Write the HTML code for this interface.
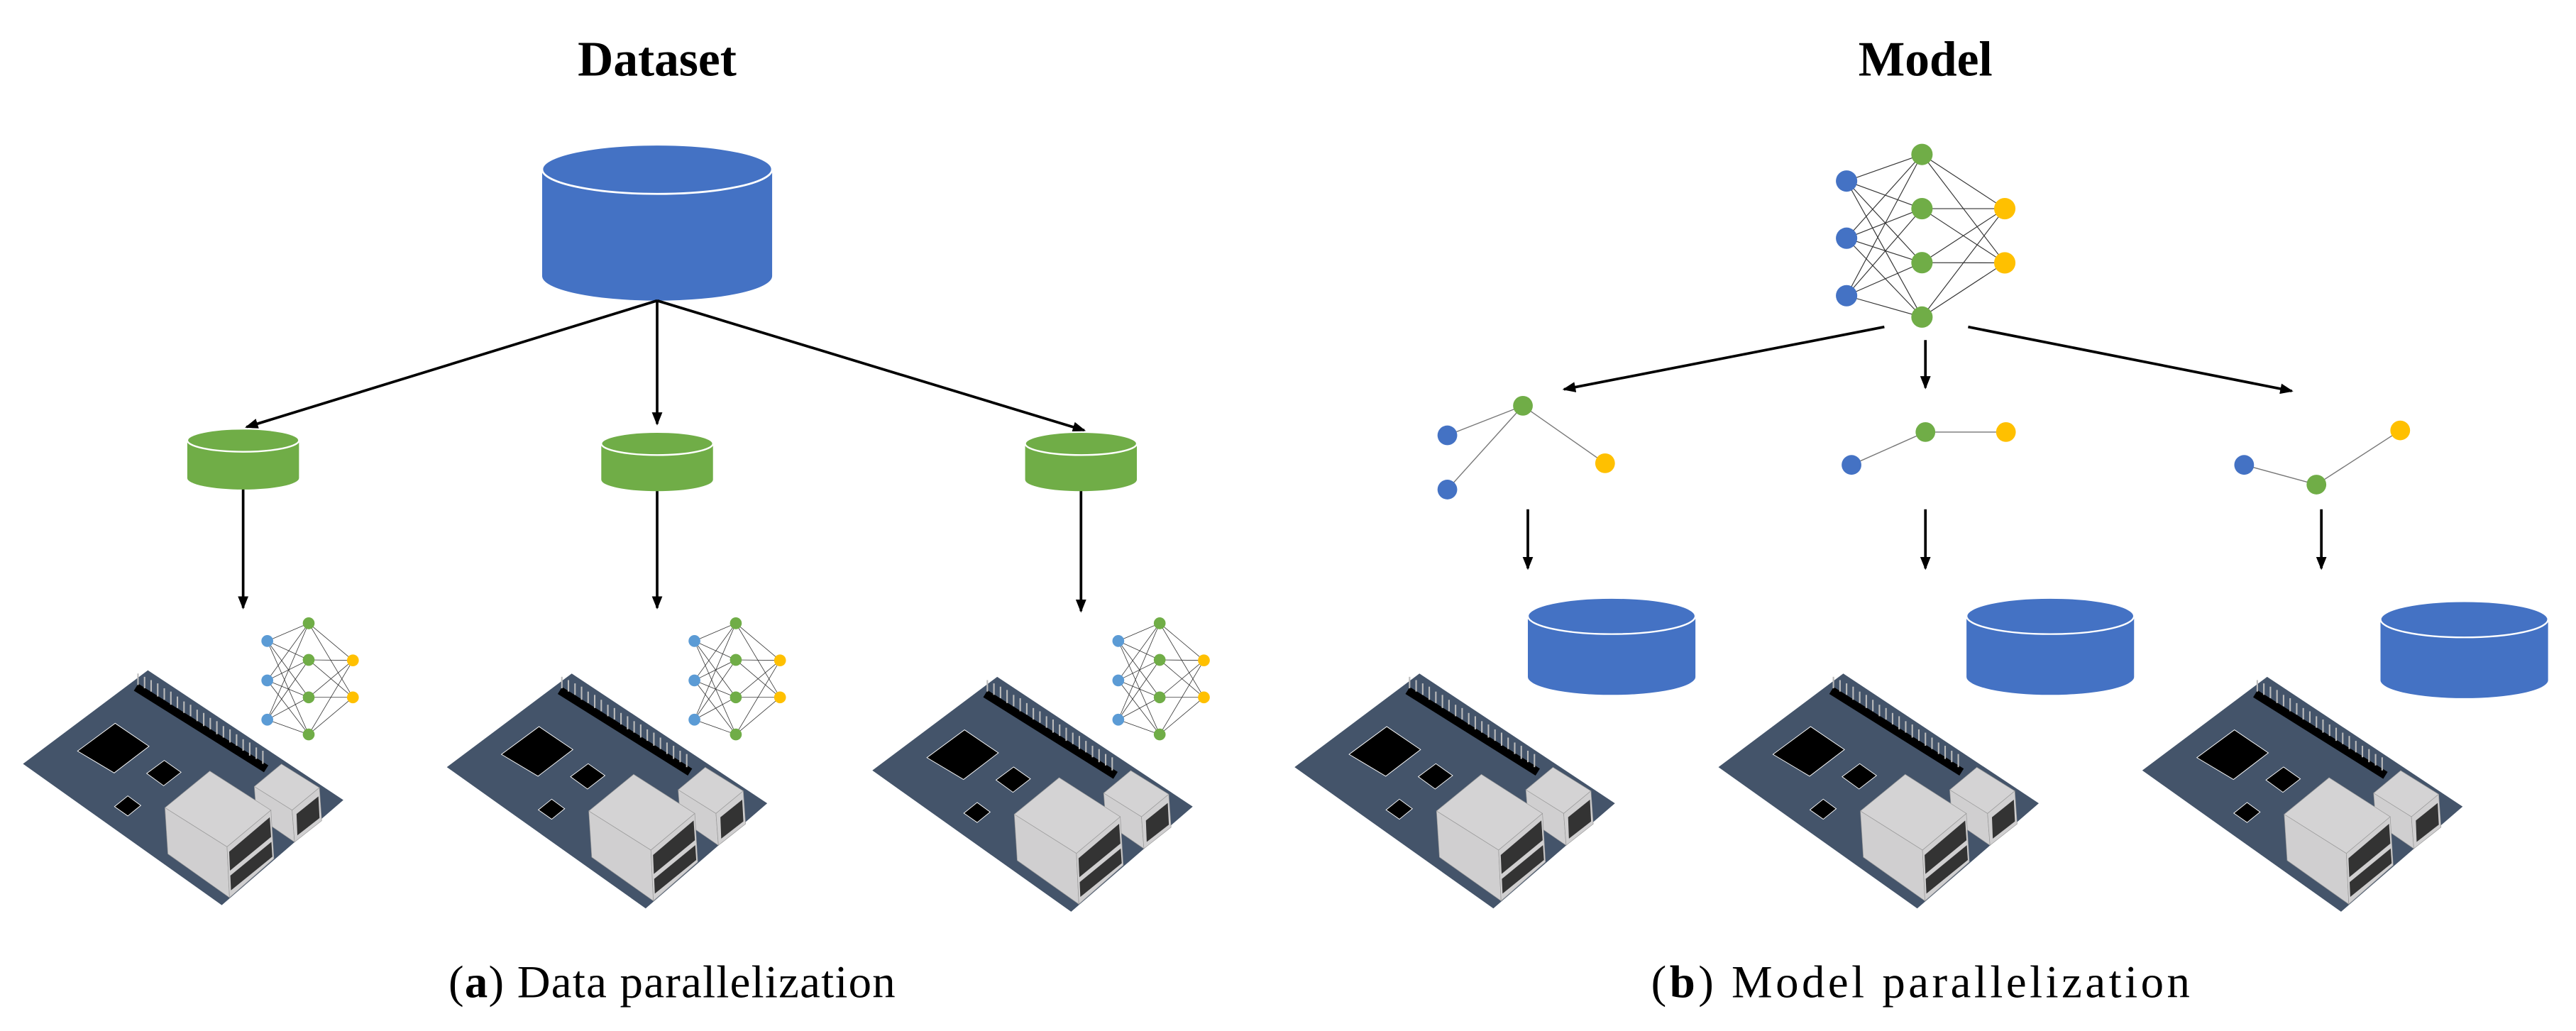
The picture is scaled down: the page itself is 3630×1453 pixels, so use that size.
<!DOCTYPE html>
<html><head><meta charset="utf-8"><style>
html,body{margin:0;padding:0;background:#fff;}
svg{display:block;}
text{font-family:"Liberation Serif",serif;}
</style></head><body>
<svg width="3630" height="1453" viewBox="0 0 1568 627.6" xmlns="http://www.w3.org/2000/svg">
<defs>
<marker id="ah" markerWidth="8" markerHeight="8" refX="7" refY="4" orient="auto" markerUnits="userSpaceOnUse">
<path d="M0,0.8 L8,4 L0,7.2 Z" fill="#000"/>
</marker>
<g id="board">
<polygon points="14,465 90,408 209,487 135,551" fill="#44546A"/>
<line x1="82.8" y1="418.3" x2="162" y2="468" stroke="#000" stroke-width="5"/>
<g stroke="#bbb" stroke-width="0.9">
<line x1="84" y1="410" x2="84" y2="417"/><line x1="88" y1="412" x2="88" y2="419"/><line x1="92" y1="414" x2="92" y2="421"/><line x1="96" y1="416" x2="96" y2="424"/><line x1="100" y1="419" x2="100" y2="426"/><line x1="104" y1="421" x2="104" y2="429"/><line x1="108" y1="424" x2="108" y2="431"/><line x1="112" y1="427" x2="112" y2="434"/><line x1="116" y1="429" x2="116" y2="436"/><line x1="120" y1="432" x2="120" y2="439"/><line x1="124" y1="434" x2="124" y2="442"/><line x1="128" y1="437" x2="128" y2="444"/><line x1="132" y1="439" x2="132" y2="447"/><line x1="136" y1="442" x2="136" y2="449"/><line x1="140" y1="444" x2="140" y2="452"/><line x1="144" y1="447" x2="144" y2="454"/><line x1="148" y1="450" x2="148" y2="457"/><line x1="152" y1="452" x2="152" y2="460"/><line x1="156" y1="455" x2="156" y2="462"/><line x1="160" y1="457" x2="160" y2="465"/>
</g>
<polygon points="47.2,457.2 70.1,440.3 90.7,454.3 69.5,470.5" fill="#000" stroke="#fff" stroke-width="0.4"/>
<polygon points="89.3,470.8 100,462.9 110.2,470.1 99.6,478.3" fill="#000" stroke="#fff" stroke-width="0.4"/>
<polygon points="69.7,491 77.8,484.5 85.7,490.3 77.8,496.7" fill="#000" stroke="#fff" stroke-width="0.4"/>
<polygon points="154.8,478.8 171.3,465.1 194.4,479.5 177.8,493.2" fill="#d4d3d4" stroke="#999" stroke-width="0.3"/>
<polygon points="154.8,478.8 177.8,493.2 179.3,512.6 156.2,496.7" fill="#d0cfd0" stroke="#999" stroke-width="0.3"/>
<polygon points="177.8,493.2 194.4,479.5 195.8,499.6 179.3,512.6" fill="#d0cfd0" stroke="#999" stroke-width="0.3"/>
<polygon points="180.5,495.5 193.8,484.8 194.5,498 181,508.5" fill="#333"/>
<polygon points="100.4,491.7 127.7,469.4 164.9,493.2 138.2,515.5" fill="#d4d3d4" stroke="#999" stroke-width="0.3"/>
<polygon points="100.4,491.7 138.2,515.5 139.7,546.4 102.2,519.8" fill="#d0cfd0" stroke="#999" stroke-width="0.3"/>
<polygon points="138.2,515.5 164.9,493.2 166.7,522.7 139.7,546.4" fill="#d0cfd0" stroke="#999" stroke-width="0.3"/>
<polygon points="139.5,518.5 164.2,497.5 165,509.5 140,530" fill="#333"/>
<polygon points="140.2,533 165.2,512.5 165.8,521.5 140.6,542" fill="#333"/>
</g>
<g id="snn">
<g stroke="#333" stroke-width="0.35">
<line x1="162.7" y1="390.2" x2="187.9" y2="379.4"/><line x1="162.7" y1="390.2" x2="187.9" y2="401.7"/><line x1="162.7" y1="390.2" x2="187.9" y2="424.5"/><line x1="162.7" y1="390.2" x2="187.9" y2="447.1"/>
<line x1="162.7" y1="414.2" x2="187.9" y2="379.4"/><line x1="162.7" y1="414.2" x2="187.9" y2="401.7"/><line x1="162.7" y1="414.2" x2="187.9" y2="424.5"/><line x1="162.7" y1="414.2" x2="187.9" y2="447.1"/>
<line x1="162.7" y1="438.1" x2="187.9" y2="379.4"/><line x1="162.7" y1="438.1" x2="187.9" y2="401.7"/><line x1="162.7" y1="438.1" x2="187.9" y2="424.5"/><line x1="162.7" y1="438.1" x2="187.9" y2="447.1"/>
<line x1="187.9" y1="379.4" x2="214.8" y2="402"/><line x1="187.9" y1="379.4" x2="214.8" y2="424.5"/><line x1="187.9" y1="401.7" x2="214.8" y2="402"/><line x1="187.9" y1="401.7" x2="214.8" y2="424.5"/>
<line x1="187.9" y1="424.5" x2="214.8" y2="402"/><line x1="187.9" y1="424.5" x2="214.8" y2="424.5"/><line x1="187.9" y1="447.1" x2="214.8" y2="402"/><line x1="187.9" y1="447.1" x2="214.8" y2="424.5"/>
</g>
<g fill="#5B9BD5"><circle cx="162.7" cy="390.2" r="3.6"/><circle cx="162.7" cy="414.2" r="3.6"/><circle cx="162.7" cy="438.1" r="3.6"/></g>
<g fill="#70AD47"><circle cx="187.9" cy="379.4" r="3.6"/><circle cx="187.9" cy="401.7" r="3.6"/><circle cx="187.9" cy="424.5" r="3.6"/><circle cx="187.9" cy="447.1" r="3.6"/></g>
<g fill="#FFC000"><circle cx="214.8" cy="402" r="3.6"/><circle cx="214.8" cy="424.5" r="3.6"/></g>
</g>
</defs>

<text x="400" y="46" font-size="30" font-weight="bold" text-anchor="middle">Dataset</text>
<text x="1172" y="46" font-size="30" font-weight="bold" text-anchor="middle">Model</text>

<path d="M330,103 L330,168 A70,15 0 0 0 470,168 L470,103 Z" fill="#4472C4"/>
<ellipse cx="400" cy="103" rx="70" ry="15" fill="#4472C4" stroke="#fff" stroke-width="1.2"/>

<g stroke="#000" stroke-width="1.6" fill="none" marker-end="url(#ah)">
<line x1="400" y1="183" x2="150" y2="260"/>
<line x1="400" y1="183" x2="400" y2="258"/>
<line x1="400" y1="183" x2="660" y2="262"/>
<line x1="148" y1="297" x2="148" y2="370"/>
<line x1="400" y1="297" x2="400" y2="370"/>
<line x1="658" y1="297" x2="658" y2="372"/>
<line x1="1147" y1="199" x2="952" y2="237"/>
<line x1="1172" y1="207" x2="1172" y2="236"/>
<line x1="1198" y1="199" x2="1395" y2="238"/>
<line x1="930" y1="310" x2="930" y2="346"/>
<line x1="1172" y1="310" x2="1172" y2="346"/>
<line x1="1413" y1="310" x2="1413" y2="346"/>
</g>

<g fill="#70AD47">
<path d="M114,268 L114,291 A34,7 0 0 0 182,291 L182,268 Z"/>
<ellipse cx="148" cy="268" rx="34" ry="7" stroke="#fff" stroke-width="1"/>
<path d="M366,270 L366,292 A34,7 0 0 0 434,292 L434,270 Z"/>
<ellipse cx="400" cy="270" rx="34" ry="7" stroke="#fff" stroke-width="1"/>
<path d="M624,270 L624,292 A34,7 0 0 0 692,292 L692,270 Z"/>
<ellipse cx="658" cy="270" rx="34" ry="7" stroke="#fff" stroke-width="1"/>
</g>

<g fill="#4472C4">
<path d="M930,375 L930,412 A51,11 0 0 0 1032,412 L1032,375 Z"/>
<ellipse cx="981" cy="375" rx="51" ry="11" stroke="#fff" stroke-width="1"/>
<path d="M1197,375 L1197,412 A51,11 0 0 0 1299,412 L1299,375 Z"/>
<ellipse cx="1248" cy="375" rx="51" ry="11" stroke="#fff" stroke-width="1"/>
<path d="M1449,377 L1449,414 A51,11 0 0 0 1551,414 L1551,377 Z"/>
<ellipse cx="1500" cy="377" rx="51" ry="11" stroke="#fff" stroke-width="1"/>
</g>

<use href="#board"/>
<use href="#board" transform="translate(258,2)"/>
<use href="#board" transform="translate(517,4)"/>
<use href="#board" transform="translate(774,2)"/>
<use href="#board" transform="translate(1032,2)"/>
<use href="#board" transform="translate(1290,4)"/>
<use href="#snn"/>
<use href="#snn" transform="translate(260,0)"/>
<use href="#snn" transform="translate(518,0)"/>

<g stroke="#333" stroke-width="0.5">
<line x1="1124" y1="110.2" x2="1169.9" y2="94"/><line x1="1124" y1="110.2" x2="1169.9" y2="127"/><line x1="1124" y1="110.2" x2="1169.9" y2="159.9"/><line x1="1124" y1="110.2" x2="1169.9" y2="193"/>
<line x1="1124" y1="145" x2="1169.9" y2="94"/><line x1="1124" y1="145" x2="1169.9" y2="127"/><line x1="1124" y1="145" x2="1169.9" y2="159.9"/><line x1="1124" y1="145" x2="1169.9" y2="193"/>
<line x1="1124" y1="180" x2="1169.9" y2="94"/><line x1="1124" y1="180" x2="1169.9" y2="127"/><line x1="1124" y1="180" x2="1169.9" y2="159.9"/><line x1="1124" y1="180" x2="1169.9" y2="193"/>
<line x1="1169.9" y1="94" x2="1220.3" y2="127"/><line x1="1169.9" y1="94" x2="1220.3" y2="160"/><line x1="1169.9" y1="127" x2="1220.3" y2="127"/><line x1="1169.9" y1="127" x2="1220.3" y2="160"/>
<line x1="1169.9" y1="159.9" x2="1220.3" y2="127"/><line x1="1169.9" y1="159.9" x2="1220.3" y2="160"/><line x1="1169.9" y1="193" x2="1220.3" y2="127"/><line x1="1169.9" y1="193" x2="1220.3" y2="160"/>
</g>
<g fill="#4472C4"><circle cx="1124" cy="110.2" r="6.5"/><circle cx="1124" cy="145" r="6.5"/><circle cx="1124" cy="180" r="6.5"/></g>
<g fill="#70AD47"><circle cx="1169.9" cy="94" r="6.5"/><circle cx="1169.9" cy="127" r="6.5"/><circle cx="1169.9" cy="159.9" r="6.5"/><circle cx="1169.9" cy="193" r="6.5"/></g>
<g fill="#FFC000"><circle cx="1220.3" cy="127" r="6.5"/><circle cx="1220.3" cy="160" r="6.5"/></g>

<g stroke="#777" stroke-width="0.6">
<line x1="881" y1="265" x2="927" y2="247"/><line x1="881" y1="298" x2="927" y2="247"/><line x1="927" y1="247" x2="977" y2="282"/>
<line x1="1127" y1="283" x2="1172" y2="263"/><line x1="1172" y1="263" x2="1221" y2="263"/>
<line x1="1366" y1="283" x2="1410" y2="295"/><line x1="1410" y1="295" x2="1461" y2="262"/>
</g>
<g>
<circle cx="881" cy="265" r="6" fill="#4472C4"/><circle cx="881" cy="298" r="6" fill="#4472C4"/><circle cx="927" cy="247" r="6" fill="#70AD47"/><circle cx="977" cy="282" r="6" fill="#FFC000"/>
<circle cx="1127" cy="283" r="6" fill="#4472C4"/><circle cx="1172" cy="263" r="6" fill="#70AD47"/><circle cx="1221" cy="263" r="6" fill="#FFC000"/>
<circle cx="1366" cy="283" r="6" fill="#4472C4"/><circle cx="1410" cy="295" r="6" fill="#70AD47"/><circle cx="1461" cy="262" r="6" fill="#FFC000"/>
</g>

<text x="273" y="607" font-size="28" textLength="272" lengthAdjust="spacing">(<tspan font-weight="bold">a</tspan>) Data parallelization</text>
<text x="1005" y="607" font-size="28" textLength="328" lengthAdjust="spacing">(<tspan font-weight="bold">b</tspan>) Model parallelization</text>
</svg>
</body></html>
